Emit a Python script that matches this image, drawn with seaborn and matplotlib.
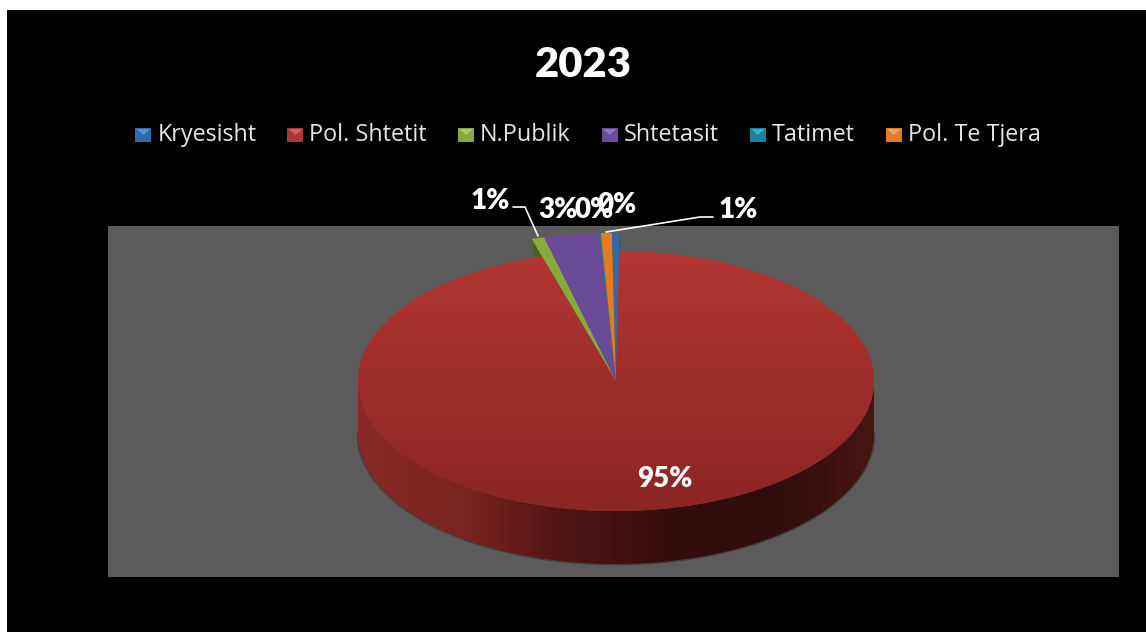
#!/usr/bin/env python3
"""
Pie chart 2023, drawn flat with a tilted axes and a fake 3D wall
"""
import numpy as np
import seaborn as sns
import matplotlib.pyplot as plt
from matplotlib.colors import LinearSegmentedColormap
from matplotlib.legend_handler import HandlerBase
from matplotlib.lines import Line2D
from matplotlib.patches import PathPatch, Polygon, Rectangle
from matplotlib.path import Path

title = "2023"
categories = ["Kryesisht", "Pol. Shtetit", "N.Publik", "Shtetasit", "Tatimet", "Pol. Te Tjera"]
shares = [0.4, 95.2, 0.7, 3.0, 0.1, 0.6]

colors = ["#2f6bac", "#b03532", "#86ab3a", "#6b4a98", "#1f7f98", "#e57b20"]
dark_colors = ["#1b3f66", "#5a1614", "#4a6220", "#35244f", "#114a5a", "#8a4a12"]

W, H = 1146, 632
CX, CY = 616, 381
RX, RY = 258, 130
DEPTH = 53 / RY
SPIKE = 1.14

sns.set_theme(style="white")
plt.rcParams['font.family'] = ['Open Sans', 'DejaVu Sans']


def px(x, y):
    return x / W, 1 - y / H


class BevelHandler(HandlerBase):
    """Legend square with the lighter top triangle"""
    def create_artists(self, legend, orig, xd, yd, width, height, fontsize, trans):
        x0, y0 = -xd, -yd - 0.5
        s, h = 11.5, 10
        face = orig.get_facecolor()
        base = Rectangle((x0, y0), s, h, facecolor=face, edgecolor='none', transform=trans)
        light = sns.set_hls_values(face, l=min(sns.utils.colorsys.rgb_to_hls(*face[:3])[1] + 0.16, 0.9))
        top = Polygon([(x0 + 1, y0 + h - 1), (x0 + s - 1, y0 + h - 1), (x0 + s / 2, y0 + h / 2)],
                      facecolor=light, edgecolor='none', transform=trans)
        return [base, top]


def draw_pie(ax, palette, radius=1.0, center=(0, 0), keep=None, zorder=1):
    wedges, _ = ax.pie(shares, colors=palette, startangle=90.8, counterclock=False,
                       radius=radius, center=center, wedgeprops={'linewidth': 0})
    for i, w in enumerate(wedges):
        w.set_zorder(zorder)
        if keep is not None and i not in keep:
            w.set_visible(False)
    return wedges


fig = plt.figure(figsize=(W / 100, H / 100), dpi=100, facecolor='white')
fig.add_artist(Rectangle(px(7, H), (W - 7) / W, (H - 10) / H, transform=fig.transFigure,
                         facecolor='black', edgecolor='none', zorder=-5))

# gray plot area, one data unit is RX pixels across and RY pixels high
left, right, top, bottom = 108, 1119, 226, 577
ax = fig.add_axes([left / W, 1 - bottom / H, (right - left) / W, (bottom - top) / H])
limits = ((left - CX) / RX, (right - CX) / RX, (CY - bottom) / RY, (CY - top) / RY)

small = [0, 2, 3, 4, 5]
for offset in np.linspace(0.02, 0.42, 14):
    draw_pie(ax, dark_colors, radius=SPIKE, center=(0, -offset), keep=small, zorder=1)

red_top = draw_pie(ax, colors, keep=[1], zorder=2)[1]
tops = draw_pie(ax, colors, radius=SPIKE, keep=small, zorder=4)

# side wall of the red slice
t = np.radians(np.linspace(180, 360, 200))
arc = np.column_stack([np.cos(t), np.sin(t) - DEPTH])
outline = np.vstack([[-1, 0], arc, [1, 0], [-1, 0]])
ax.plot(arc[:, 0], arc[:, 1], color='#222222', lw=2, alpha=0.45, zorder=1.2)
wall_clip = PathPatch(Path(outline), transform=ax.transData, facecolor='none', edgecolor='none')
ax.add_patch(wall_clip)
wall_cmap = LinearSegmentedColormap.from_list(
    "wall", ["#8a2a27", "#7a2521", "#4f1412", "#340e0c", "#300d0c", "#451512"])
wall = ax.imshow(np.linspace(0, 1, 256)[None, :], cmap=wall_cmap, aspect='auto',
                 extent=(-1, 1, -1 - DEPTH, 0), zorder=1.5)
wall.set_clip_path(wall_clip)

top_cmap = LinearSegmentedColormap.from_list("top", ["#b33633", "#8a2624"])
face = ax.imshow(np.linspace(0, 1, 256)[:, None], cmap=top_cmap, aspect='auto',
                 extent=(-1, 1, -1, 1), zorder=3)
face.set_clip_path(red_top)

ax.set_aspect('auto')
ax.set_xlim(limits[0], limits[1])
ax.set_ylim(limits[2], limits[3])
ax.set_frame_on(True)
ax.patch.set_facecolor('#5b5b5b')
ax.patch.set_visible(True)
for spine in ax.spines.values():
    spine.set_visible(False)

# percent labels, in pie order
percent_labels = [f"{v:.0f}%" for v in shares]
label_px = [(617, 205), (665, 479), (490, 201), (558, 210), (594, 210), (738, 210)]
for text, (x, y) in zip(percent_labels, label_px):
    fx, fy = px(x, y)
    fig.text(fx, fy, text, color='white', fontsize=20, fontweight='heavy',
             family=['Lato', 'DejaVu Sans'], ha='center', va='center', zorder=6)

for xs, ys in [((513, 525, 538), (207, 207, 236)), ((713, 700, 606), (217, 217, 232))]:
    fig.add_artist(Line2D([x / W for x in xs], [1 - y / H for y in ys], color='white', lw=1.2, zorder=6))

fx, fy = px(583, 65)
fig.text(fx, fy, title, color='white', fontsize=30, fontweight='heavy',
         family=['Lato', 'DejaVu Sans'], ha='center', va='center')

fx, fy = px(588, 135)
fig.legend(tops[:1] + [red_top] + tops[2:], categories, loc='center', bbox_to_anchor=(fx, fy),
           ncol=6, frameon=False, fontsize=16.8, labelcolor='#e6e6e6',
           handler_map={type(red_top): BevelHandler()},
           handlelength=0.68, handletextpad=0.26, columnspacing=1.33, borderpad=0)

fig.savefig("out.png", dpi=100, facecolor=fig.get_facecolor())
